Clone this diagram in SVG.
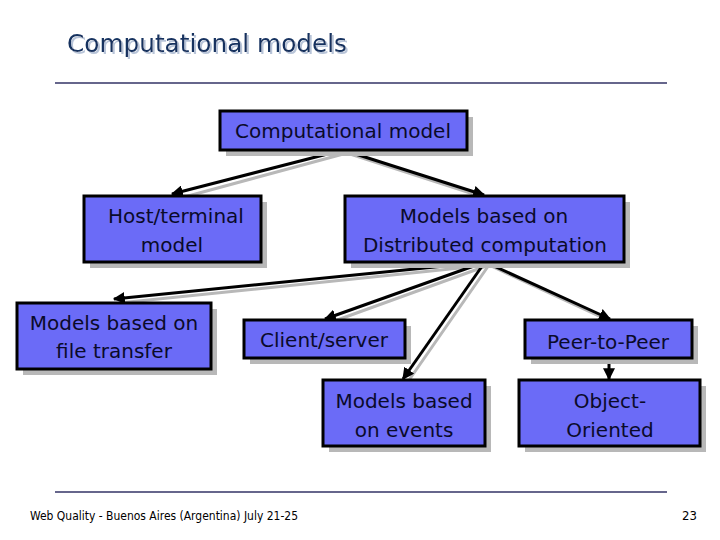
<svg xmlns="http://www.w3.org/2000/svg" width="720" height="540" viewBox="0 0 720 540">
<defs>
<style>
.sh{fill:#b8b8b8}
.bx{fill:#6b6bf7;stroke:#000;stroke-width:3}
.t{font-family:"DejaVu Sans",sans-serif;font-size:20px;fill:#0a0a2a;text-anchor:middle}
.c{stroke:#000;stroke-width:3;fill:none;marker-end:url(#a)}
.cs{stroke:#b8b8b8;stroke-width:3;fill:none}
</style>
<marker id="a" viewBox="0 0 10 10" refX="9" refY="5" markerWidth="4" markerHeight="4" orient="auto"><path d="M0,0L10,5L0,10z" fill="#000"/></marker>
<filter id="ds" x="-5%" y="-20%" width="110%" height="150%"><feDropShadow dx="2" dy="2" stdDeviation="0.5" flood-color="#b8c4d8"/></filter>
</defs>
<rect width="720" height="540" fill="#fff"/>
<text x="67" y="52" font-family="DejaVu Sans,sans-serif" font-size="24" fill="#14305e" filter="url(#ds)" textLength="280" lengthAdjust="spacingAndGlyphs">Computational models</text>
<line x1="55" y1="83" x2="667" y2="83" stroke="#333366" stroke-width="1.5"/>
<line x1="55" y1="492" x2="667" y2="492" stroke="#333366" stroke-width="1.5"/>
<text x="30" y="520" font-family="DejaVu Sans Condensed,DejaVu Sans,sans-serif" font-size="12" fill="#000" textLength="268" lengthAdjust="spacingAndGlyphs">Web Quality - Buenos Aires (Argentina) July 21-25</text>
<text x="697" y="520" font-family="DejaVu Sans Condensed,DejaVu Sans,sans-serif" font-size="13" fill="#000" text-anchor="end">23</text>
<g id="connectors">
<path class="cs" d="M347,153L177,199M347,153L489,199M489,265L119,303M489,265L329,323M489,265L407,383M489,265L614,323"/>
<path class="c" d="M343,150L172,194"/>
<path class="c" d="M343,150L484,195"/>
<path class="c" d="M485,262L114,299"/>
<path class="c" d="M485,262L325,319"/>
<path class="c" d="M485,262L403,379"/>
<path class="c" d="M485,262L610,319"/>
<path class="c" d="M609,358L609,379"/>
</g>
<g id="n1"><rect class="sh" x="226" y="117" width="247" height="39"/><rect class="bx" x="220" y="111" width="247" height="39"/><text class="t" x="343" y="138">Computational model</text></g>
<g id="n2"><rect class="sh" x="90" y="202" width="177" height="66"/><rect class="bx" x="84" y="196" width="177" height="66"/><text class="t" x="176" y="223">Host/terminal</text><text class="t" x="172" y="252">model</text></g>
<g id="n3"><rect class="sh" x="351" y="202" width="279" height="66"/><rect class="bx" x="345" y="196" width="279" height="66"/><text class="t" x="484" y="223">Models based on</text><text class="t" x="485" y="252">Distributed computation</text></g>
<g id="n4"><rect class="sh" x="23" y="309" width="194" height="66"/><rect class="bx" x="17" y="303" width="194" height="66"/><text class="t" x="114" y="330">Models based on</text><text class="t" x="114" y="358">file transfer</text></g>
<g id="n5"><rect class="sh" x="250" y="326" width="161" height="38"/><rect class="bx" x="244" y="320" width="161" height="38"/><text class="t" x="324" y="347">Client/server</text></g>
<g id="n6"><rect class="sh" x="531" y="326" width="167" height="38"/><rect class="bx" x="525" y="320" width="167" height="38"/><text class="t" x="608" y="349">Peer-to-Peer</text></g>
<g id="n7"><rect class="sh" x="329" y="386" width="162" height="66"/><rect class="bx" x="323" y="380" width="162" height="66"/><text class="t" x="404" y="408">Models based</text><text class="t" x="404" y="437">on events</text></g>
<g id="n8"><rect class="sh" x="525" y="386" width="181" height="66"/><rect class="bx" x="519" y="380" width="181" height="66"/><text class="t" x="610" y="408">Object-</text><text class="t" x="610" y="437">Oriented</text></g>
</svg>
